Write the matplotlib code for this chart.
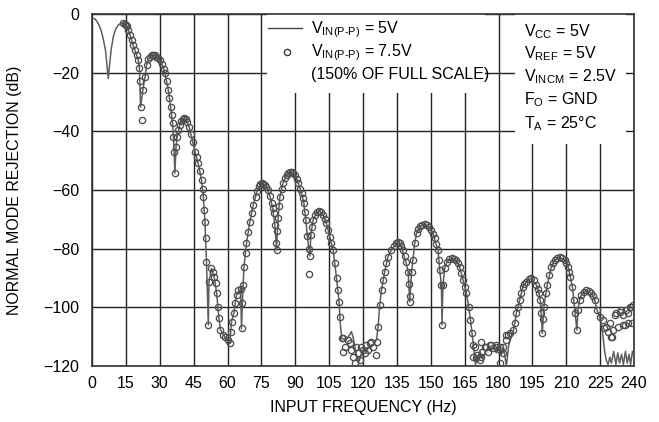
import matplotlib
matplotlib.use('Agg')
import matplotlib.pyplot as plt
from matplotlib import font_manager
from matplotlib.patches import Rectangle

names = {f.name for f in font_manager.fontManager.ttflist}
font = 'Liberation Sans Narrow' if 'Liberation Sans Narrow' in names else 'Liberation Sans'
plt.rcParams['font.family'] = [font, 'DejaVu Sans']
plt.rcParams['mathtext.fontset'] = 'custom'
plt.rcParams['mathtext.rm'] = font
plt.rcParams['mathtext.it'] = font
fs = 13 if 'Narrow' in font else 11.5

# V_IN(P-P) = 5V, solid line
f_5v = [1, 2, 3, 4, 5, 6, 6.7, 7.2, 7.7, 8.5, 9.5, 10.5, 11.5, 12.5, 13.5, 14.5,
        15.5, 16.5, 17.5, 18.5, 19.5, 20.5, 21.0, 21.5, 22.7, 23.5, 24.2, 25.0, 26.0, 27.1,
        28.2, 29.3, 30.1, 31.0, 32.3, 33.8, 34.8, 35.7, 36.2, 36.7, 37.2, 37.7, 38.9, 40.0,
        40.8, 41.8, 43.0, 44.6, 45.6, 47.0, 48.5, 49.3, 50.0, 50.7, 51.5, 51.8, 52.9, 54.1,
        55.2, 56.2, 56.9, 58.8, 61.0, 61.8, 62.8, 64.0, 65.8, 66.2, 66.9, 67.3, 68.4, 69.9,
        71.4, 73.2, 75.1, 77.2, 78.8, 80.0, 81.0, 81.7, 82.4, 83.2, 84.6, 86.2, 88.0, 90.0,
        91.3, 92.8, 93.8, 94.7, 95.3, 96.5, 96.9, 97.9, 99.6, 100.6, 102.4, 103.8, 105.3, 106.8,
        108.3, 109.4, 110.0, 110.6, 111.5, 113.0, 114.2, 114.9, 115.7, 116.4, 117.3, 118.2, 119.3, 120.5,
        121.5, 122.6, 123.7, 125.0, 126.0, 126.7, 127.4, 128.2, 129.6, 131.1, 132.6, 134.8, 135.5, 137.0,
        139.0, 140.0, 140.7, 141.5, 142.9, 143.7, 145.3, 147.3, 149.2, 151.0, 153.2, 154.0, 154.7, 155.0,
        155.4, 156.2, 157.2, 159.2, 161.3, 162.8, 164.3, 165.8, 166.8, 167.6, 168.3, 169.0, 169.8, 170.8,
        171.8, 172.8, 174.0, 175.3, 176.5, 177.8, 179.0, 180.2, 181.3, 182.3, 183.5, 184.5, 185.5, 186.4,
        187.2, 187.9, 189.4, 190.8, 192.3, 194.5, 196.8, 197.9, 198.5, 199.4, 200.1, 201.6, 203.4, 204.9,
        207.1, 209.3, 210.8, 211.8, 212.7, 213.3, 214.7, 215.2, 215.9, 216.7, 218.8, 221.1, 222.6, 223.6,
        224.8, 225.5, 226.3, 227.0, 227.7, 228.5, 229.3, 230.0, 231.0, 232.0, 232.8, 233.6, 234.5, 235.3,
        236.2, 237.0, 237.8, 238.5, 239.3, 240]
db_5v = [-1.5, -2.3, -3.6, -5.5, -8.5, -12.5, -18, -22, -18, -12, -7.5, -5.2, -3.9, -3.3, -3.0, -3.3,
         -4.3, -6.3, -8.9, -11.4, -13.4, -15.7, -18.5, -31.8, -25.0, -21.4, -17.4, -15.5, -14.3, -14.0,
         -14.3, -15.0, -15.7, -17.2, -20.2, -25.9, -31.6, -37.3, -44, -54.3, -45.5, -41.8, -37.8, -35.8,
         -35.6, -36.3, -38.5, -43.6, -46.9, -50.9, -56.6, -62.3, -70.8, -84.4, -106, -91.3, -86.7, -89.6,
         -95.2, -103.8, -107.7, -110, -112.3, -104.9, -102, -95.8, -93.9, -107.2, -92.4, -86.2, -78.2, -70.8,
         -65.1, -60.2, -57.7, -58.9, -62.0, -66.3, -72, -80.5, -69.7, -62.3, -57.7, -54.8, -53.8, -55.0,
         -57.7, -61.1, -64.5, -70.2, -75.7, -82.5, -75.3, -70.2, -67.5, -67.2, -68.5, -71.4, -75.9, -80.5,
         -90.1, -98.1, -106, -110.6, -110.9, -110.6, -109.2, -108.3, -110.5, -113.4, -117, -118.5, -116, -114.8,
         -114.6, -113.8, -113.4, -112.3, -111, -106.6, -99.2, -94.1, -87.9, -82.7, -80.5, -78.2, -77.6, -79.2,
         -84.5, -87.9, -98.1, -87.9, -78.2, -74.8, -72.3, -71.6, -72.6, -75.0, -80.5, -87.3, -92.4, -106,
         -92.4, -86.7, -84.5, -83.3, -83.9, -86.2, -90.7, -95.2, -99.8, -104.3, -108.9, -114, -119.5, -117,
         -115, -117.5, -115.5, -113.8, -115, -113.5, -115.5, -113.5, -116, -114, -120, -113, -110.5, -108.9,
         -105.5, -102, -97.5, -93, -91.3, -90.1, -92.4, -95.2, -97.5, -108.9, -99.8, -92.4, -86.2, -83.9,
         -82.9, -83.9, -86.2, -89.6, -93, -97.5, -107.7, -100.9, -97.5, -95.8, -94.1, -95.2, -97.5, -100.9,
         -103.2, -106, -110, -115, -118, -119.5, -117, -119, -115, -119.5, -115.5, -119, -116, -119.5,
         -115, -119, -116, -119.5, -115, -117]

# V_IN(P-P) = 7.5V, circles
f_75v = [13.9, 14.4, 14.9, 15.4, 16.1, 16.8, 17.5, 18.2, 19.0, 19.8, 20.5, 21.0, 21.3, 21.5, 22.3,
         22.7, 23.5, 24.2, 25.0, 25.8, 26.5, 27.1, 27.8, 28.5, 29.3, 30.1, 31.0, 31.7, 32.3, 33.0,
         33.8, 34.3, 34.8, 35.3, 35.7, 36.0, 36.4, 36.7, 37.2, 37.7, 38.3, 38.9, 39.5, 40.1, 40.8,
         41.5, 42.2, 43.0, 43.8, 44.6, 45.6, 46.3, 47.0, 47.8, 48.5, 49.0, 49.3, 49.7, 50.0, 50.4,
         50.7, 51.5, 51.8, 52.9, 53.7, 54.1, 54.9, 55.2, 55.9, 56.2, 56.9, 57.8, 58.8, 60.0, 61.0,
         61.5, 62.2, 62.8, 63.3, 64.0, 64.7, 65.8, 66.2, 66.2, 66.9, 67.3, 68.1, 68.4, 69.2, 69.9,
         70.7, 71.4, 72.4, 73.2, 74.0, 74.6, 75.1, 75.7, 76.4, 77.2, 78.0, 78.8, 79.5, 80.0, 80.5,
         81.0, 81.4, 81.7, 82.1, 82.4, 82.8, 83.2, 84.0, 84.6, 85.4, 86.2, 87.0, 87.8, 88.5, 89.2,
         90.0, 90.7, 91.3, 92.1, 92.8, 93.3, 93.8, 94.3, 94.7, 95.3, 95.9, 96.0, 96.5, 96.9, 97.4,
         97.9, 98.7, 99.6, 100.6, 101.5, 102.4, 103.1, 103.8, 104.6, 105.3, 106.0, 106.8, 107.5, 108.3,
         109.0, 109.4, 109.7, 110.5, 111.2, 111.9, 111.2, 113.4, 114.2, 114.9, 115.6, 116.4, 117.1, 117.8,
         118.6, 119.3, 120.0, 120.8, 121.5, 122.3, 123.0, 123.7, 124.5, 125.7, 126.2, 126.7, 127.4, 128.2,
         128.9, 129.6, 130.4, 131.1, 132.6, 133.6, 134.8, 135.5, 136.3, 137.0, 137.8, 138.4, 139.0, 140.0,
         140.4, 140.7, 141.0, 141.5, 142.2, 142.9, 143.7, 144.5, 145.3, 146.3, 147.3, 148.2, 149.2, 150.3,
         151.0, 151.8, 152.5, 153.2, 153.6, 154.0, 154.7, 155.0, 155.4, 156.2, 157.2, 158.2, 159.2, 160.2,
         161.3, 162.0, 162.8, 163.5, 164.3, 165.0, 165.8, 166.8, 167.6, 168.3, 168.6, 168.7, 169.5, 170.2,
         170.5, 171.7, 172.4, 172.4, 172.9, 173.9, 174.6, 175.4, 176.1, 176.8, 177.6, 179.0, 179.1, 180.5,
         180.5, 180.5, 182.0, 182.0, 183.5, 183.5, 184.2, 184.9, 186.4, 187.2, 187.9, 188.6, 189.4, 190.1,
         190.8, 191.5, 192.3, 193.4, 194.5, 195.6, 196.8, 197.4, 197.9, 198.5, 199.0, 199.4, 199.8, 200.1,
         201.2, 201.6, 202.4, 203.4, 204.1, 204.9, 206.0, 207.1, 208.2, 209.3, 210.0, 210.8, 211.3, 211.8,
         212.7, 213.3, 214.0, 214.7, 215.2, 215.9, 216.7, 217.7, 218.8, 220.0, 221.1, 222.0, 222.6, 223.6,
         224.8, 226.2, 226.9, 227.7, 228.4, 229.2, 229.9, 230.4, 230.7, 231.4, 232.2, 232.9, 233.6, 234.4,
         235.1, 235.1, 235.8, 236.5, 237.3, 237.3, 238.1, 238.8, 239.3, 239.6]
db_75v = [-3.2, -3.3, -3.6, -4.2, -5.5, -7.0, -8.9, -10.6, -12.3, -14.0, -15.7, -18.5, -23, -31.8, -36.1,
          -25.9, -21.4, -17.4, -15.5, -14.5, -14.1, -14.0, -14.1, -14.5, -15.0, -15.7, -17.2, -18.6, -20.2, -22.8,
          -25.9, -28.5, -31.6, -34.5, -37.3, -41.8, -47, -54.3, -45.5, -41.8, -39.5, -37.8, -36.5, -35.8, -35.6,
          -35.9, -36.8, -38.5, -40.8, -43.6, -46.9, -48.9, -50.9, -53.6, -56.6, -59.5, -62.3, -66.8, -70.8, -76.5,
          -84.4, -106, -91.3, -86.7, -87.9, -89.6, -91.8, -95.2, -99.8, -103.8, -107.7, -109.4, -110, -111.1, -112.3,
          -108.3, -104.9, -102, -98.6, -95.8, -94.1, -93.9, -98.6, -107.2, -92.4, -86.2, -81.4, -78.2, -74.2, -70.8,
          -68.0, -65.1, -62.3, -60.2, -58.8, -58.0, -57.7, -57.8, -58.2, -58.9, -60.0, -62.0, -64.5, -66.3, -68.0,
          -72, -78.2, -80.5, -74, -69.7, -65.5, -62.3, -59.5, -57.7, -56.0, -54.8, -54.1, -53.8, -53.8, -54.2,
          -55.0, -56.2, -57.7, -59.5, -61.1, -62.8, -64.5, -67.5, -70.2, -75.7, -80, -88.6, -82.5, -75.3, -72.5,
          -70.2, -68.5, -67.5, -67.2, -67.6, -68.5, -69.8, -71.4, -73.5, -75.9, -78.2, -80.5, -85, -90.1,
          -94.1, -98.1, -103.2, -110.6, -110.6, -113.4, -115.1, -111.1, -112.3, -114.6, -116.8, -119.1, -113.4, -115.7,
          -118, -113.4, -114.6, -115.7, -112.8, -114.6, -112.3, -111.7, -113.4, -116.2, -111.7, -106.6, -99.2, -94.1,
          -90.7, -87.9, -85.0, -82.7, -80.5, -79.0, -78.2, -77.6, -78.2, -79.2, -80.5, -82.5, -84.5, -87.9,
          -92, -98.1, -96, -87.9, -83.9, -78.2, -74.8, -73.2, -72.3, -71.8, -71.6, -71.9, -72.6, -73.6,
          -75.0, -76.5, -78.5, -80.5, -84, -87.3, -92.4, -106, -92.4, -86.7, -84.5, -83.6, -83.3, -83.5,
          -83.9, -85, -86.2, -88.3, -90.7, -93, -95.2, -99.8, -104.3, -108.9, -113, -116.8, -113.4, -117.4,
          -116.2, -118, -111.7, -116.8, -115.1, -113.4, -113.4, -115.1, -112.8, -112.8, -114, -113.4, -112.8, -113.4,
          -114.6, -119, -115.7, -113.4, -109.4, -111.1, -109.4, -108.9, -107.7, -105.5, -102, -99.8, -97.5, -95.2,
          -93, -92, -91.3, -90.5, -90.1, -90.6, -92.4, -93.8, -95.2, -97.5, -102, -108.9, -104, -99.8,
          -95.2, -92.4, -89.0, -86.2, -85, -83.9, -83.2, -82.9, -83.2, -83.9, -85, -86.2, -88, -89.6,
          -93, -97.5, -102, -107.7, -100.9, -97.5, -95.8, -94.7, -94.1, -94.4, -95.2, -96.3, -97.5, -100.9,
          -103.2, -104.3, -107.2, -106.6, -108.3, -105.5, -110, -110, -107.7, -102.6, -102, -106.8, -101.5, -100.9,
          -102.6, -106, -106, -100.9, -102, -105.5, -99.8, -99.8, -105.4, -99.2]

xticks = list(range(0, 241, 15))
yticks = list(range(-120, 1, 20))

fig = plt.figure(figsize=(6.59, 4.22), dpi=100)
ax = fig.add_axes([92 / 659, 56 / 422, 542 / 659, 352 / 422])

ax.plot(f_5v, db_5v, color='#5e5e5e', lw=1.1, zorder=3)
ax.plot(f_75v, db_75v, ls='none', marker='o', ms=4.5, mfc='none', mec='#4e4e4e', mew=0.95, zorder=4)

ax.set_xlim(0, 240)
ax.set_ylim(-120, 0)
ax.set_xticks(xticks)
ax.set_yticks(yticks)
ax.grid(True, color='#222222', lw=1.0, zorder=1)
ax.set_axisbelow(True)
ax.tick_params(length=0, labelsize=fs, pad=7)
ax.tick_params(axis='y', pad=9)
for s in ax.spines.values():
    s.set_color('#333333')
    s.set_linewidth(1.2)

ax.set_xlabel('INPUT FREQUENCY (Hz)', fontsize=fs)
ax.set_ylabel('NORMAL MODE REJECTION (dB)', fontsize=fs)
ax.xaxis.set_label_coords(0.5, -0.097)
ax.yaxis.set_label_coords(-0.13, 0.5)

# white boxes behind the legend and the conditions
ax.add_patch(Rectangle((77.4, -27), 96.6, 27, fc='white', ec='none', zorder=1.5))
ax.add_patch(Rectangle((187.5, -44.3), 49, 44.3, fc='white', ec='none', zorder=1.5))

ax.plot([77.9, 92.9], [-4.8, -4.8], color='#444444', lw=1.0, zorder=5)
ax.plot([86.3], [-13.0], ls='none', marker='o', ms=4.5, mfc='none', mec='#333333', mew=0.95, zorder=5)
sub = '$_{\\mathregular{IN(P\u2010P)}}$'
ax.text(97, -5.5, 'V' + sub + ' = 5V', fontsize=fs, va='center', zorder=5)
ax.text(97, -13.3, 'V' + sub + ' = 7.5V', fontsize=fs, va='center', zorder=5)
ax.text(97, -20.6, '(150% OF FULL SCALE)', fontsize=fs, va='center', zorder=5)

cond = [r'V$_{\mathregular{CC}}$ = 5V', r'V$_{\mathregular{REF}}$ = 5V',
        r'V$_{\mathregular{INCM}}$ = 2.5V', r'F$_{\mathregular{O}}$ = GND',
        r'T$_{\mathregular{A}}$ = 25°C']
cond_y = [-6.0, -13.5, -21.5, -29.3, -37.5]
for t, y in zip(cond, cond_y):
    ax.text(191.2, y, t, fontsize=fs, va='center', zorder=5)

fig.savefig('out.png', dpi=100)
